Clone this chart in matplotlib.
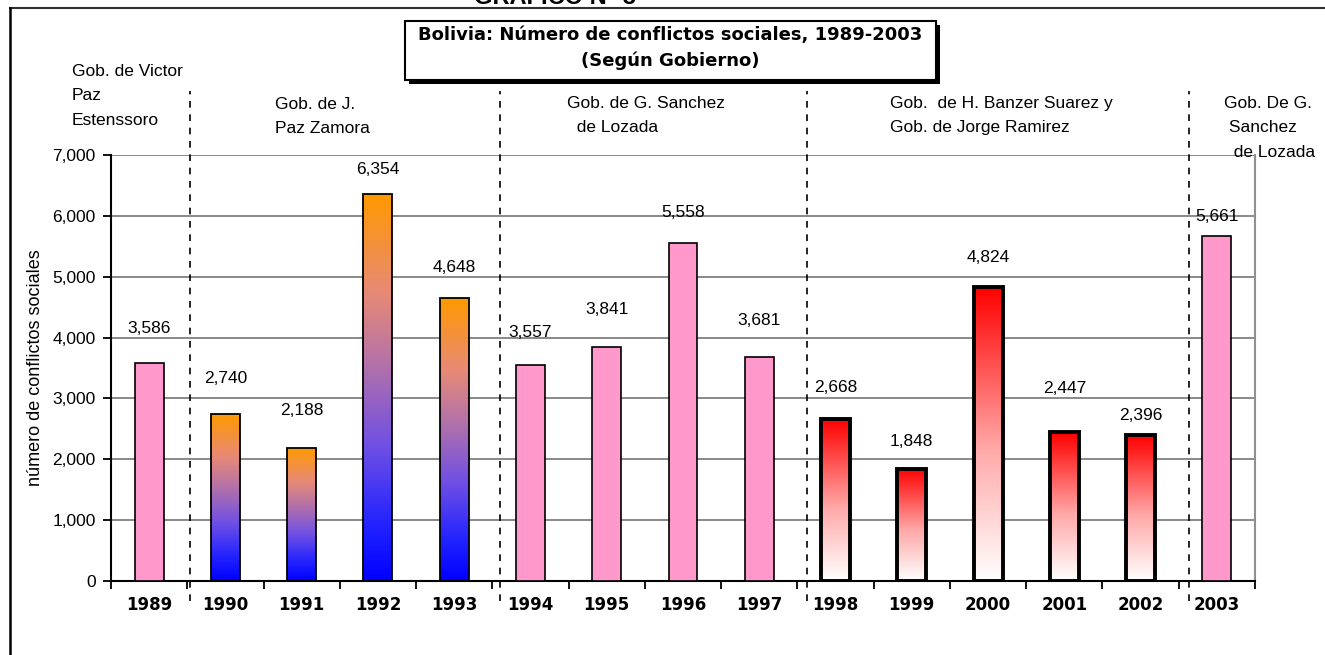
import numpy as np
import matplotlib
matplotlib.use("Agg")
import matplotlib.pyplot as plt
from matplotlib.colors import LinearSegmentedColormap
from matplotlib.lines import Line2D
from matplotlib.patches import Rectangle

years = ["1989", "1990", "1991", "1992", "1993", "1994", "1995", "1996",
         "1997", "1998", "1999", "2000", "2001", "2002", "2003"]
conflicts = [3586, 2740, 2188, 6354, 4648, 3557, 3841, 5558,
             3681, 2668, 1848, 4824, 2447, 2396, 5661]
# fill style per bar: pink plain, orange/blue gradient, red/white gradient
styles = ["pink", "blue", "blue", "blue", "blue", "pink", "pink", "pink",
          "pink", "red", "red", "red", "red", "red", "pink"]

gov_labels = ["Gob. de Victor\nPaz\nEstenssoro",
              "Gob. de J.\nPaz Zamora",
              "Gob. de G. Sanchez\n  de Lozada",
              "Gob.  de H. Banzer Suarez y\nGob. de Jorge Ramirez",
              "Gob. De G.\n Sanchez\n  de Lozada"]
# where the dashed separators between governments fall (bar index units)
separators = [0.53, 4.6, 8.63, 13.63]

# label offsets above the bars, in pixels (labels were hand placed)
label_offsets = [34, 36, 37, 25, 31, 32, 38, 30, 36, 31, 27, 30, 44, 20, 20]

pink = "#FF99CC"
cmap_blue = LinearSegmentedColormap.from_list(
    "ob", [(0.0, "#0000FF"), (0.15, "#2424FF"), (0.35, "#7050E4"),
           (0.55, "#B070AC"), (0.75, "#E88A74"), (1.0, "#FF9900")])
cmap_red = LinearSegmentedColormap.from_list(
    "rw", [(0.0, "#FFFFFF"), (0.45, "#FFA8A8"), (1.0, "#FF0000")])

fig = plt.figure(figsize=(13.25, 6.55), dpi=100)
ax = fig.add_axes([111 / 1325, 1 - 581 / 655, 1144 / 1325, 426 / 655])

xs = np.arange(len(years))
width = 0.38
grad = np.linspace(0, 1, 256).reshape(-1, 1)

for x, v, st in zip(xs, conflicts, styles):
    if st == "pink":
        ax.bar(x, v, width, color=pink, edgecolor="black", linewidth=1.2, zorder=3)
    else:
        lw = 1.3 if st == "blue" else 2.8
        cm = cmap_blue if st == "blue" else cmap_red
        bar = ax.bar(x, v, width, facecolor="none", edgecolor="black",
                     linewidth=lw, zorder=3)[0]
        im = ax.imshow(grad, extent=[x - width / 2, x + width / 2, 0, v],
                       origin="lower", cmap=cm, aspect="auto", zorder=2.5)
        im.set_clip_path(bar)

for x, v, off in zip(xs, conflicts, label_offsets):
    ax.annotate("{:,}".format(v), (x, v), xytext=(0, off),
                textcoords="offset pixels", ha="center", va="center",
                fontsize=12.5, family="Liberation Sans", zorder=5)

ax.set_xlim(-0.5, len(years) - 0.5)
ax.set_ylim(0, 7000)
ax.set_yticks(np.arange(0, 7001, 1000))
ax.set_yticklabels(["{:,}".format(t) for t in range(0, 7001, 1000)],
                   family="Liberation Sans", fontsize=12.5)
ax.yaxis.grid(True, color="#808080", linewidth=1.3)
ax.set_axisbelow(True)

ax.set_xticks(np.arange(-0.5, len(years), 1))
ax.set_xticklabels([])
ax.set_xticks(xs, minor=True)
ax.set_xticklabels(years, minor=True, fontweight="bold", fontsize=12,
                   family="DejaVu Sans")
ax.tick_params(axis="x", which="major", length=6, width=1.3, direction="out")
ax.tick_params(axis="x", which="minor", length=0, pad=11)
ax.tick_params(axis="y", length=6, width=1.3, pad=5)

ax.spines["top"].set_visible(False)
ax.spines["right"].set_color("#909090")
ax.spines["right"].set_linewidth(1.5)
ax.spines["left"].set_linewidth(1.5)
ax.spines["bottom"].set_linewidth(1.5)

ax.set_ylabel("número de conflictos sociales", family="Liberation Sans",
              fontsize=13, labelpad=6)

for s in separators:
    ax.plot([s, s], [-330, 8050], color="black", linestyle=(0, (4, 4)),
            linewidth=1.2, clip_on=False, zorder=4)

# government names above the plot area (figure pixel positions)
gov_pos = [(72, 64), (275, 97), (567, 96), (890, 96), (1224, 96)]
for (px, py), txt in zip(gov_pos, gov_labels):
    fig.text(px / 1325, 1 - py / 655, txt, ha="left", va="top",
             family="Liberation Sans", fontsize=12.5, linespacing=1.78)

# outer frame
fig.add_artist(Line2D([10 / 1325, 1], [1 - 8 / 655] * 2, color="#303030",
                      linewidth=1.5, transform=fig.transFigure))
fig.add_artist(Line2D([10 / 1325] * 2, [0, 1 - 8 / 655], color="black",
                      linewidth=1.8, transform=fig.transFigure))

# cut-off heading at the very top (it is cut in the original too)
fig.text(555 / 1325, 1 - 4 / 655, "GRAFICO N° 3", ha="center", va="baseline",
         fontweight="bold", fontsize=17, family="Liberation Sans")

# title box with shadow
bx0, bx1, by0, by1 = 405, 936, 21, 80
fig.add_artist(Rectangle(((bx0 + 4) / 1325, 1 - (by1 + 4) / 655),
                         (bx1 - bx0) / 1325, (by1 - by0) / 655,
                         facecolor="black", edgecolor="none",
                         transform=fig.transFigure, zorder=9))
fig.add_artist(Rectangle((bx0 / 1325, 1 - by1 / 655),
                         (bx1 - bx0) / 1325, (by1 - by0) / 655,
                         facecolor="white", edgecolor="black", linewidth=1.5,
                         transform=fig.transFigure, zorder=10))
fig.text((bx0 + bx1) / 2 / 1325, 1 - 48 / 655,
         "Bolivia: Número de conflictos sociales, 1989-2003\n(Según Gobierno)",
         ha="center", va="center", fontweight="bold", fontsize=13,
         family="DejaVu Sans", linespacing=1.45, zorder=11)

fig.savefig("out.png", dpi=100)
